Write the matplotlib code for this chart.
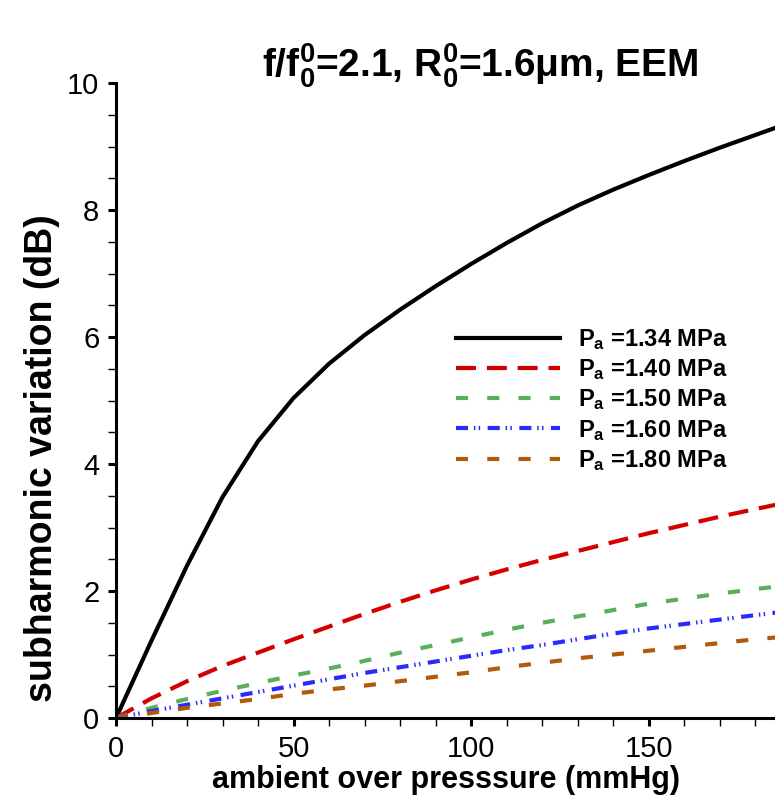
import matplotlib
matplotlib.use("Agg")
import matplotlib.pyplot as plt
from matplotlib.ticker import MultipleLocator

plt.rcParams['font.family'] = ['Liberation Sans', 'DejaVu Sans']
plt.rcParams['mathtext.fontset'] = 'custom'
plt.rcParams['mathtext.rm'] = 'Liberation Sans:bold'
plt.rcParams['mathtext.bf'] = 'Liberation Sans:bold'
plt.rcParams['mathtext.default'] = 'rm'

# ambient over pressure (mmHg)
pressure = [0, 10, 20, 30, 40, 50, 60, 70, 80, 90, 100, 110, 120, 130, 140, 150, 160, 170, 180, 186]

# subharmonic variation (dB) per acoustic pressure
sv_134 = [0, 1.22, 2.40, 3.48, 4.36, 5.04, 5.58, 6.03, 6.43, 6.80, 7.15, 7.48, 7.79, 8.07, 8.32, 8.55, 8.77, 8.98, 9.18, 9.30]
sv_140 = [0, 0.31, 0.58, 0.82, 1.03, 1.24, 1.44, 1.64, 1.83, 2.01, 2.18, 2.34, 2.49, 2.63, 2.77, 2.91, 3.04, 3.17, 3.29, 3.36]
sv_150 = [0, 0.16, 0.30, 0.43, 0.55, 0.67, 0.78, 0.90, 1.03, 1.15, 1.27, 1.39, 1.50, 1.60, 1.70, 1.80, 1.88, 1.96, 2.03, 2.07]
sv_160 = [0, 0.11, 0.21, 0.31, 0.41, 0.51, 0.61, 0.71, 0.80, 0.89, 0.98, 1.07, 1.15, 1.24, 1.33, 1.41, 1.48, 1.55, 1.62, 1.66]
sv_180 = [0, 0.08, 0.16, 0.23, 0.30, 0.38, 0.45, 0.51, 0.58, 0.65, 0.72, 0.80, 0.87, 0.94, 1.00, 1.06, 1.12, 1.18, 1.24, 1.27]

labels = [r'P$_\mathrm{a}$ =1.34 MPa', r'P$_\mathrm{a}$ =1.40 MPa', r'P$_\mathrm{a}$ =1.50 MPa',
          r'P$_\mathrm{a}$ =1.60 MPa', r'P$_\mathrm{a}$ =1.80 MPa']

fig = plt.figure(figsize=(7.75, 8.02), dpi=100)
ax = fig.add_axes([0.1497, 0.1047, 0.8503, 0.7918])

ax.plot(pressure, sv_134, color='black', lw=3.0, label=labels[0])
ax.plot(pressure, sv_140, color='#d40000', lw=3.0, dashes=(4.8, 2.6), label=labels[1])
ax.plot(pressure, sv_150, color='#5aaf5a', lw=3.0, dashes=(2.9, 4.6), label=labels[2])
ax.plot(pressure, sv_160, color='#2a2aff', lw=3.0, dashes=(2.9, 1.4, 0.35, 0.8, 0.35, 1.8), label=labels[3])
ax.plot(pressure, sv_180, color='#b05a0a', lw=3.0, dashes=(2.9, 4.6), label=labels[4])

ax.set_xlim(0, 185.6)
ax.set_ylim(0, 10)
ax.spines['right'].set_visible(False)
ax.spines['top'].set_visible(False)
ax.spines['left'].set_linewidth(2.2)
ax.spines['bottom'].set_linewidth(2.2)

ax.xaxis.set_major_locator(MultipleLocator(50))
ax.xaxis.set_minor_locator(MultipleLocator(10))
ax.yaxis.set_major_locator(MultipleLocator(2))
ax.yaxis.set_minor_locator(MultipleLocator(0.5))
ax.tick_params(which='major', direction='out', length=6, width=2.2, labelsize=21, pad=6)
ax.tick_params(which='minor', direction='out', length=6, width=1.0)

ax.set_xlabel('ambient over presssure (mmHg)', fontsize=22, fontweight='bold', labelpad=2)
ax.set_ylabel('subharmonic variation (dB)', fontsize=27, fontweight='bold')
ax.yaxis.set_label_coords(-0.085, 0.41)

fig.text(0.62, 0.918, r'f/f$_0^0$=2.1, R$_0^0$=1.6μm, EEM', fontsize=28,
         fontweight='bold', ha='center', va='center')

ax.legend(loc='upper left', bbox_to_anchor=(0.502, 0.63), frameon=False,
          prop={'size': 17, 'weight': 'bold'}, handlelength=4.4, handletextpad=0.75,
          labelspacing=0.22, borderaxespad=0)

fig.savefig('out.png', dpi=100)
